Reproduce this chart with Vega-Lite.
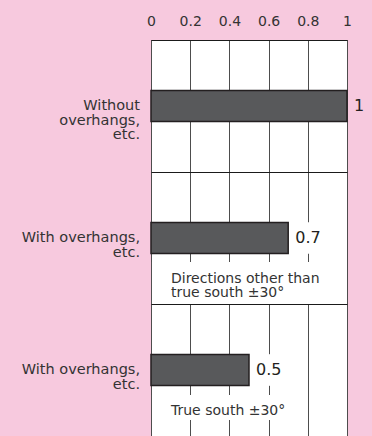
{
  "$schema": "https://vega.github.io/schema/vega-lite/v6.json",
  "autosize": {"type": "none"},
  "padding": {"left": 151, "top": 40, "right": 25, "bottom": 0},
  "width": 196,
  "height": 396,
  "background": "#f7c9de",
  "config": {
    "view": {"fill": "white", "stroke": "#3a3a3a", "strokeWidth": 1},
    "font": "DejaVu Sans"
  },
  "data": {
    "values": [
      {"section": "s1", "label": "Without \noverhangs,\netc.", "value": 1, "note": ""},
      {"section": "s2", "label": "With overhangs,\netc.", "value": 0.7, "note": "Directions other than\ntrue south ±30°"},
      {"section": "s3", "label": "With overhangs,\netc.", "value": 0.5, "note": "True south ±30°"}
    ]
  },
  "encoding": {
    "x": {
      "field": "value", "type": "quantitative",
      "scale": {"domain": [0, 1], "nice": false},
      "axis": {"orient": "top", "values": [0, 0.2, 0.4, 0.6, 0.8, 1], "tickCount": 6, "labelExpr": "format(datum.value, '~g')", "labelOverlap": false, "labelFlush": false, "labelBound": false, "ticks": false, "tickSize": 0, "domain": false, "grid": true, "gridColor": "#4d4d4d", "gridWidth": 1, "gridOpacity": 1, "labelFontSize": 14, "labelColor": "#333333", "labelPadding": 12, "title": null, "labelFont": "DejaVu Sans"}
    },
    "y": {
      "field": "section", "type": "nominal", "sort": null,
      "scale": {"paddingInner": 0, "paddingOuter": 0},
      "axis": {"labels": false, "ticks": false, "domain": false, "grid": true, "bandPosition": 0, "gridColor": "#1a1a1a", "gridWidth": 1, "gridOpacity": 1, "title": null, "zindex": 1}
    }
  },
  "layer": [
    {
      "mark": {"type": "bar", "height": 31, "fill": "#58595b", "stroke": "#231f20", "strokeWidth": 1.5}
    },
    {
      "transform": [{"filter": "datum.section == 's2'"}],
      "mark": {"type": "bar", "height": 42, "yOffset": 45, "fill": "white"},
      "encoding": {"x": {"datum": 0.005}, "x2": {"datum": 0.995}}
    },
    {
      "transform": [{"filter": "datum.section == 's3'"}],
      "mark": {"type": "bar", "height": 25, "yOffset": 37.5, "fill": "white"},
      "encoding": {"x": {"datum": 0.005}, "x2": {"datum": 0.79}}
    },
    {
      "transform": [{"filter": "datum.value < 1"}],
      "mark": {"type": "point", "shape": "square", "filled": true, "size": 1000, "fill": "white", "opacity": 1, "strokeWidth": 0, "xOffset": 21}
    },
    {
      "mark": {"type": "text", "align": "right", "baseline": "middle", "dx": -11, "lineBreak": "\n", "fontSize": 14.5, "lineHeight": 14.5, "color": "#333333"},
      "encoding": {"x": {"datum": 0}, "text": {"field": "label"}}
    },
    {
      "mark": {"type": "text", "align": "left", "baseline": "middle", "dx": 7, "fontSize": 16, "color": "#231f20"},
      "encoding": {"text": {"field": "value", "format": "~g"}}
    },
    {
      "transform": [{"filter": "datum.note != ''"}],
      "mark": {"type": "text", "align": "left", "baseline": "alphabetic", "dx": 20, "lineBreak": "\n", "fontSize": 14, "lineHeight": 14.5, "color": "#333333"},
      "encoding": {"x": {"datum": 0}, "y": {"field": "section", "type": "nominal", "sort": null, "bandPosition": 0.84}, "text": {"field": "note"}}
    }
  ]
}
